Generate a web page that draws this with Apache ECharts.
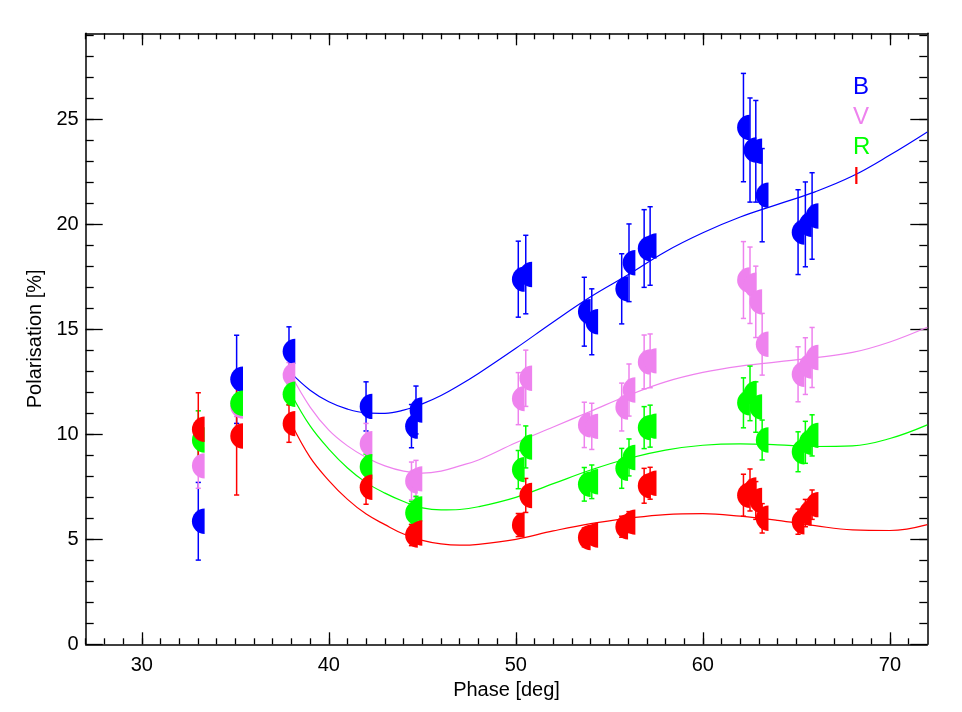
<!DOCTYPE html>
<html><head><meta charset="utf-8">
<script src="https://cdn.jsdelivr.net/npm/echarts@6/dist/echarts.min.js"></script>
<style>html,body{margin:0;padding:0;background:#fff}#c{width:962px;height:712px}</style>
</head><body><div id="c"></div><script>
// ---- data ----
const phase = [33.02, 35.07, 37.87, 41.99, 44.42, 44.66, 50.13, 50.53, 53.66, 54.06, 55.66, 56.05, 56.86, 57.18, 62.17, 62.52, 62.83, 63.17, 65.09, 65.48, 65.84];
const bVal = [5.86, 12.62, 13.95, 11.33, 10.39, 11.16, 17.39, 17.61, 15.84, 15.36, 16.93, 18.17, 18.85, 18.97, 24.61, 23.54, 23.48, 21.39, 19.63, 20.0, 20.4];
const bErr = [1.85, 2.1, 1.17, 1.17, 1.03, 1.14, 1.81, 1.87, 1.64, 1.57, 1.67, 1.85, 1.85, 1.87, 2.58, 2.48, 2.42, 2.22, 2.02, 2.02, 2.06];
const vVal = [8.5, 11.35, 12.82, 9.55, 7.78, 7.88, 11.7, 12.67, 10.45, 10.38, 11.3, 12.11, 13.45, 13.5, 17.35, 17.1, 16.31, 14.29, 12.86, 13.25, 13.66];
const vErr = [1.07, 0.5, 0.6, 0.97, 0.9, 0.88, 1.24, 1.34, 1.08, 1.1, 1.14, 1.24, 1.28, 1.28, 1.83, 1.82, 1.7, 1.47, 1.31, 1.35, 1.43];
const rVal = [9.73, 11.48, 11.91, 8.46, 6.26, 6.45, 8.32, 9.4, 7.62, 7.74, 8.38, 8.9, 10.32, 10.39, 11.5, 11.95, 11.3, 9.73, 9.17, 9.62, 9.95];
const rErr = [1.39, 0.4, 0.5, 0.6, 0.55, 0.6, 0.91, 1.0, 0.8, 0.8, 0.95, 0.88, 1.0, 1.0, 1.19, 1.3, 1.2, 0.95, 0.95, 1.0, 0.98];
const iVal = [10.24, 9.92, 10.51, 7.48, 5.2, 5.3, 5.68, 7.09, 5.09, 5.2, 5.6, 5.82, 7.55, 7.67, 7.1, 7.35, 6.85, 6.0, 5.84, 6.25, 6.65];
const iErr = [1.74, 2.81, 0.89, 0.81, 0.5, 0.5, 0.55, 0.81, 0.45, 0.45, 0.5, 0.5, 0.83, 0.76, 1.0, 1.0, 0.9, 0.7, 0.6, 0.65, 0.7];

const fitX = [38, 39, 40, 41, 42, 43, 44, 45, 46, 47, 48, 50, 52, 54, 56, 58, 60, 62, 64, 66, 68, 70, 72];
const bFit = [12.9, 12.1, 11.55, 11.2, 11.02, 11.0, 11.15, 11.45, 11.85, 12.35, 12.9, 14.1, 15.35, 16.55, 17.6, 18.7, 19.6, 20.35, 20.95, 21.55, 22.3, 23.3, 24.4];
const vFit = [12.8, 11.3, 10.2, 9.45, 8.9, 8.5, 8.25, 8.15, 8.25, 8.5, 8.78, 9.6, 10.35, 11.1, 11.85, 12.5, 12.95, 13.25, 13.45, 13.65, 13.9, 14.4, 15.1];
const rFit = [11.9, 10.4, 9.3, 8.4, 7.7, 7.2, 6.8, 6.5, 6.4, 6.42, 6.55, 7.0, 7.65, 8.3, 8.85, 9.25, 9.48, 9.55, 9.5, 9.42, 9.45, 9.8, 10.45];
const iFit = [10.5, 8.9, 7.8, 6.9, 6.2, 5.7, 5.25, 4.95, 4.78, 4.72, 4.76, 5.0, 5.4, 5.75, 6.0, 6.18, 6.22, 6.1, 5.9, 5.65, 5.45, 5.42, 5.7];

const bandNames = ['B', 'V', 'R', 'I'];
const xMajor = [30, 40, 50, 60, 70];
const xMinor = [27, 28, 29, 30, 31, 32, 33, 34, 35, 36, 37, 38, 39, 40, 41, 42, 43, 44, 45, 46, 47, 48, 49, 50, 51, 52, 53, 54, 55, 56, 57, 58, 59, 60, 61, 62, 63, 64, 65, 66, 67, 68, 69, 70, 71];
const yMajor = [0, 5, 10, 15, 20, 25];
const yMinor = [1, 2, 3, 4, 5, 6, 7, 8, 9, 10, 11, 12, 13, 14, 15, 16, 17, 18, 19, 20, 21, 22, 23, 24, 25, 26, 27, 28, 29];

// ---- styles ----
const colors = ['#0000ff', '#ee82ee', '#00ff00', '#ff0000'];
const FONT = "'Liberation Sans', Arial, Helvetica, sans-serif";
const vals = [bVal, vVal, rVal, iVal];
const errs = [bErr, vErr, rErr, iErr];
const fits = [bFit, vFit, rFit, iFit];

const chart = echarts.init(document.getElementById('c'), null, {renderer: 'canvas'});
const X0 = 27, X1 = 72, Y0 = 0, Y1 = 29.1;
const axCol = '#000';

function xAx(pos, ticks, len, major) {
  return {
    type: 'value', min: X0, max: X1, position: pos,
    axisLine: {show: major, onZero: false, lineStyle: {color: axCol, width: 1.5}},
    axisTick: {show: true, inside: true, length: len, customValues: ticks, lineStyle: {color: axCol, width: 1.3}},
    axisLabel: (pos === 'bottom' && major) ? {show: true, customValues: xMajor, color: '#000', fontSize: 20, fontFamily: FONT, margin: 11} : {show: false},
    splitLine: {show: false},
    name: (pos === 'bottom' && major) ? 'Phase [deg]' : '',
    nameLocation: 'middle', nameGap: 35,
    nameTextStyle: {color: '#000', fontSize: 20, fontFamily: FONT}
  };
}
function yAx(pos, ticks, len, major) {
  return {
    type: 'value', min: Y0, max: Y1, position: pos,
    axisLine: {show: major, onZero: false, lineStyle: {color: axCol, width: 1.5}},
    axisTick: {show: true, inside: true, length: len, customValues: ticks, lineStyle: {color: axCol, width: 1.3}},
    axisLabel: (pos === 'left' && major) ? {show: true, customValues: yMajor, color: '#000', fontSize: 20, fontFamily: FONT, margin: 7} : {show: false},
    splitLine: {show: false},
    name: (pos === 'left' && major) ? 'Polarisation [%]' : '',
    nameLocation: 'middle', nameGap: 38, nameRotate: 90,
    nameTextStyle: {color: '#000', fontSize: 20, fontFamily: FONT}
  };
}

const series = [];
// fitted curves
fits.forEach((f, k) => {
  series.push({
    name: bandNames[k], type: 'line', xAxisIndex: 0, yAxisIndex: 0,
    data: fitX.map((x, i) => [x, f[i]]), smooth: 0.4, showSymbol: false, symbol: 'none',
    lineStyle: {color: colors[k], width: 1.2}, itemStyle: {color: colors[k]}, z: 2, silent: true, clip: true
  });
});
// error bars
vals.forEach((v, k) => {
  series.push({
    name: bandNames[k], type: 'custom', xAxisIndex: 0, yAxisIndex: 0, z: 3,
    itemStyle: {color: colors[k]},
    data: phase.map((x, i) => [x, v[i], errs[k][i]]),
    renderItem: function (params, api) {
      const x = api.value(0), y = api.value(1), e = api.value(2);
      const t = api.coord([x, y + e]), b = api.coord([x, y - e]);
      const c = 2.6;
      const st = {stroke: colors[k], lineWidth: 1.5};
      return {type: 'group', children: [
        {type: 'line', shape: {x1: t[0], y1: t[1], x2: b[0], y2: b[1]}, style: st},
        {type: 'line', shape: {x1: t[0] - c, y1: t[1], x2: t[0] + c, y2: t[1]}, style: st},
        {type: 'line', shape: {x1: b[0] - c, y1: b[1], x2: b[0] + c, y2: b[1]}, style: st}
      ]};
    }
  });
});
// half-disc markers
vals.forEach((v, k) => {
  series.push({
    name: bandNames[k], type: 'custom', xAxisIndex: 0, yAxisIndex: 0, z: 4,
    itemStyle: {color: colors[k]},
    data: phase.map((x, i) => [x, v[i]]),
    renderItem: function (params, api) {
      const p = api.coord([api.value(0), api.value(1)]);
      const r = 12.7;
      return {type: 'sector', shape: {cx: p[0] + r / 2, cy: p[1], r0: 0, r: r, startAngle: Math.PI / 2, endAngle: Math.PI * 1.5, clockwise: true},
        style: {fill: colors[k]}};
    }
  });
});

chart.setOption({
  animation: false,
  backgroundColor: '#fff',
  grid: {left: 85.7, right: 34.7, top: 33.3, bottom: 67.7, containLabel: false},
  legend: {
    show: true, orient: 'vertical', left: 843, top: 70, icon: 'none', itemWidth: 0, itemHeight: 14, itemGap: 6,
    selectedMode: false,
    textStyle: {fontSize: 24, fontFamily: FONT},
    data: bandNames.map((n, k) => ({name: n, icon: 'none', textStyle: {color: colors[k]}}))
  },
  xAxis: [xAx('bottom', xMajor, 12, true), xAx('bottom', xMinor, 6, false), xAx('top', xMajor, 12, true), xAx('top', xMinor, 6, false)],
  yAxis: [yAx('left', yMajor, 17, true), yAx('left', yMinor, 8, false), yAx('right', yMajor, 17, true), yAx('right', yMinor, 8, false)],
  series: series
});
</script></body></html>
